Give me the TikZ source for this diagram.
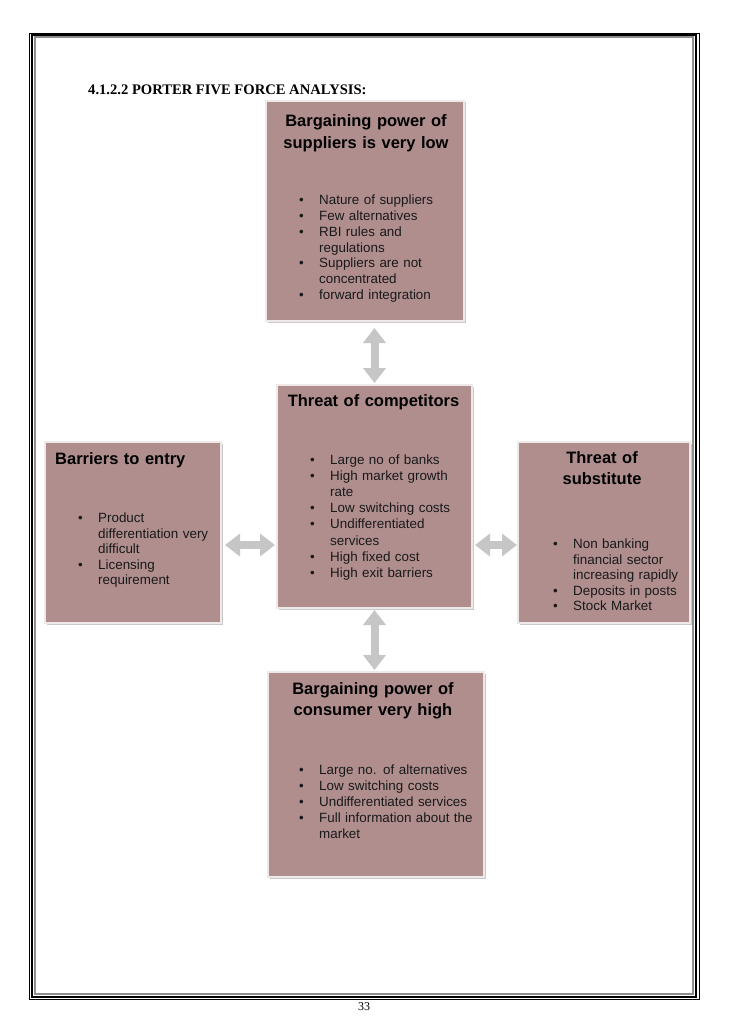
\documentclass[tikz,border=0pt]{standalone}
\usepackage{fontspec}
\setmainfont{Liberation Serif}
\setsansfont{Liberation Sans}
\usepackage{xcolor}
\usepackage{tikz}
\usetikzlibrary{calc,arrows.meta,shadows}
\definecolor{forceMauve}{HTML}{B08E8E}
\definecolor{forceEdge}{HTML}{EEE8E8}
\definecolor{frameGray}{HTML}{8E8E8E}
\newcommand{\fitem}{\makebox[20pt][l]{\textbullet}}
\newcommand{\fcont}{\hspace*{20pt}}

\begin{document}
\begin{tikzpicture}[
            x=1pt, y=-1pt,
            forcebox/.style={
                draw=forceEdge,
                fill=forceMauve,
                line width=2.5pt,
                anchor=north west,
                inner sep=0pt,
                outer sep=0pt,
                drop shadow={shadow xshift=1.5pt, shadow yshift=-1.5pt,
                    fill=black!35, opacity=0.6}
            },
            headtext/.style={
                font=\sffamily\bfseries\fontsize{16.5}{21}\selectfont,
                text width=200pt,
                align=center,
                inner sep=0pt,
                anchor=base
            },
            listtext/.style={
                font=\sffamily\fontsize{13.4}{#1}\selectfont,
                text width=185pt,
                align=left,
                inner sep=0pt,
                anchor=base west,
                text=black!90
            },
            listtext/.default=15.9,
            forcearrow/.style={
                {Triangle[length=15pt,width=22pt]}-{Triangle[length=15pt,width=22pt]},
                line width=8pt,
                draw=gray!45
            }
        ]

        \path[fill=white] (0,0) rectangle (728,1030);
        \useasboundingbox (0,0) rectangle (728,1030);

        % --- Page frame ---
        \draw[line width=0.8pt] (29,33.3) rectangle (699.3,999.3);
        \draw[line width=2.3pt] (32.2,35) rectangle (696.2,996.8);
        \draw[line width=2pt, draw=frameGray] (34.5,37) rectangle (692.8,994.2);

        \node[font=\bfseries\fontsize{14.6}{17}\selectfont, anchor=base west, inner sep=0pt]
            (title) at (88,95) {4.1.2.2 PORTER FIVE FORCE ANALYSIS:};

        % --- Supplier power ---
        \node[forcebox, minimum width=198pt, minimum height=220pt]
            (supp) at (266,101) {};
        \node[headtext] (supp-head) at ([xshift=1pt,yshift=-26pt]supp.north)
            {Bargaining power of\\suppliers is very low};
        \node[listtext] (supp-list) at ([xshift=33pt,yshift=-103.3pt]supp.north west)
            {\fitem Nature of suppliers\\
             \fitem Few alternatives\\
             \fitem RBI rules and\\
             \fcont regulations\\
             \fitem Suppliers are not\\
             \fcont concentrated\\
             \fitem forward integration};

        % --- Competitors ---
        \node[forcebox, minimum width=195pt, minimum height=223pt]
            (comp) at (277,385) {};
        \node[headtext] (comp-head) at ([xshift=-1pt,yshift=-21.5pt]comp.north)
            {Threat of competitors};
        \node[listtext=16.1] (comp-list) at ([xshift=33pt,yshift=-79.5pt]comp.north west)
            {\fitem Large no of banks\\
             \fitem High market growth\\
             \fcont rate\\
             \fitem Low switching costs\\
             \fitem Undifferentiated\\
             \fcont services\\
             \fitem High fixed cost\\
             \fitem High exit barriers};

        % --- Barriers to entry ---
        \node[forcebox, minimum width=176pt, minimum height=181pt]
            (entry) at (45,442) {};
        \node[headtext, align=left, anchor=base west] (entry-head)
            at ([xshift=10pt,yshift=-22pt]entry.north west)
            {Barriers to entry};
        \node[listtext=15.5] (entry-list) at ([xshift=33pt,yshift=-80.5pt]entry.north west)
            {\fitem Product\\
             \fcont differentiation very\\
             \fcont difficult\\
             \fitem Licensing\\
             \fcont requirement};

        % --- Substitutes ---
        \node[forcebox, minimum width=172pt, minimum height=181pt]
            (subst) at (518,442) {};
        \node[headtext] (subst-head) at ([xshift=-2pt,yshift=-21.5pt]subst.north)
            {Threat of\\substitute};
        \node[listtext=15.5] (subst-list) at ([xshift=35pt,yshift=-106.5pt]subst.north west)
            {\fitem Non banking\\
             \fcont financial sector\\
             \fcont increasing rapidly\\
             \fitem Deposits in posts\\
             \fitem Stock Market};

        % --- Consumer power ---
        \node[forcebox, minimum width=216pt, minimum height=205pt]
            (cons) at (268,672) {};
        \node[headtext] (cons-head) at ([xshift=-3pt,yshift=-22pt]cons.north)
            {Bargaining power of\\consumer very high};
        \node[listtext=16] (cons-list) at ([xshift=31pt,yshift=-102.5pt]cons.north west)
            {\fitem Large no. of alternatives\\
             \fitem Low switching costs\\
             \fitem Undifferentiated services\\
             \fitem Full information about the\\
             \fcont market};

        \draw[forcearrow, shorten <=2pt, shorten >=7pt]
            (comp.north) -- (comp.north |- supp.south);
        \draw[forcearrow, shorten <=2pt, shorten >=2pt]
            (comp.south) -- (comp.south |- cons.north);
        \draw[forcearrow, shorten <=4pt, shorten >=2pt]
            ([yshift=-12.5pt]entry.east) -- ([yshift=-12.5pt]entry.east -| comp.west);
        \draw[forcearrow, shorten <=1pt, shorten >=3pt]
            ([yshift=-12.5pt]subst.west) -- ([yshift=-12.5pt]subst.west -| comp.east);

        \node[font=\fontsize{12}{14}\selectfont, anchor=base, inner sep=0pt]
            (pagenum) at (364,1010) {33};

        \end{tikzpicture}
\end{document}
